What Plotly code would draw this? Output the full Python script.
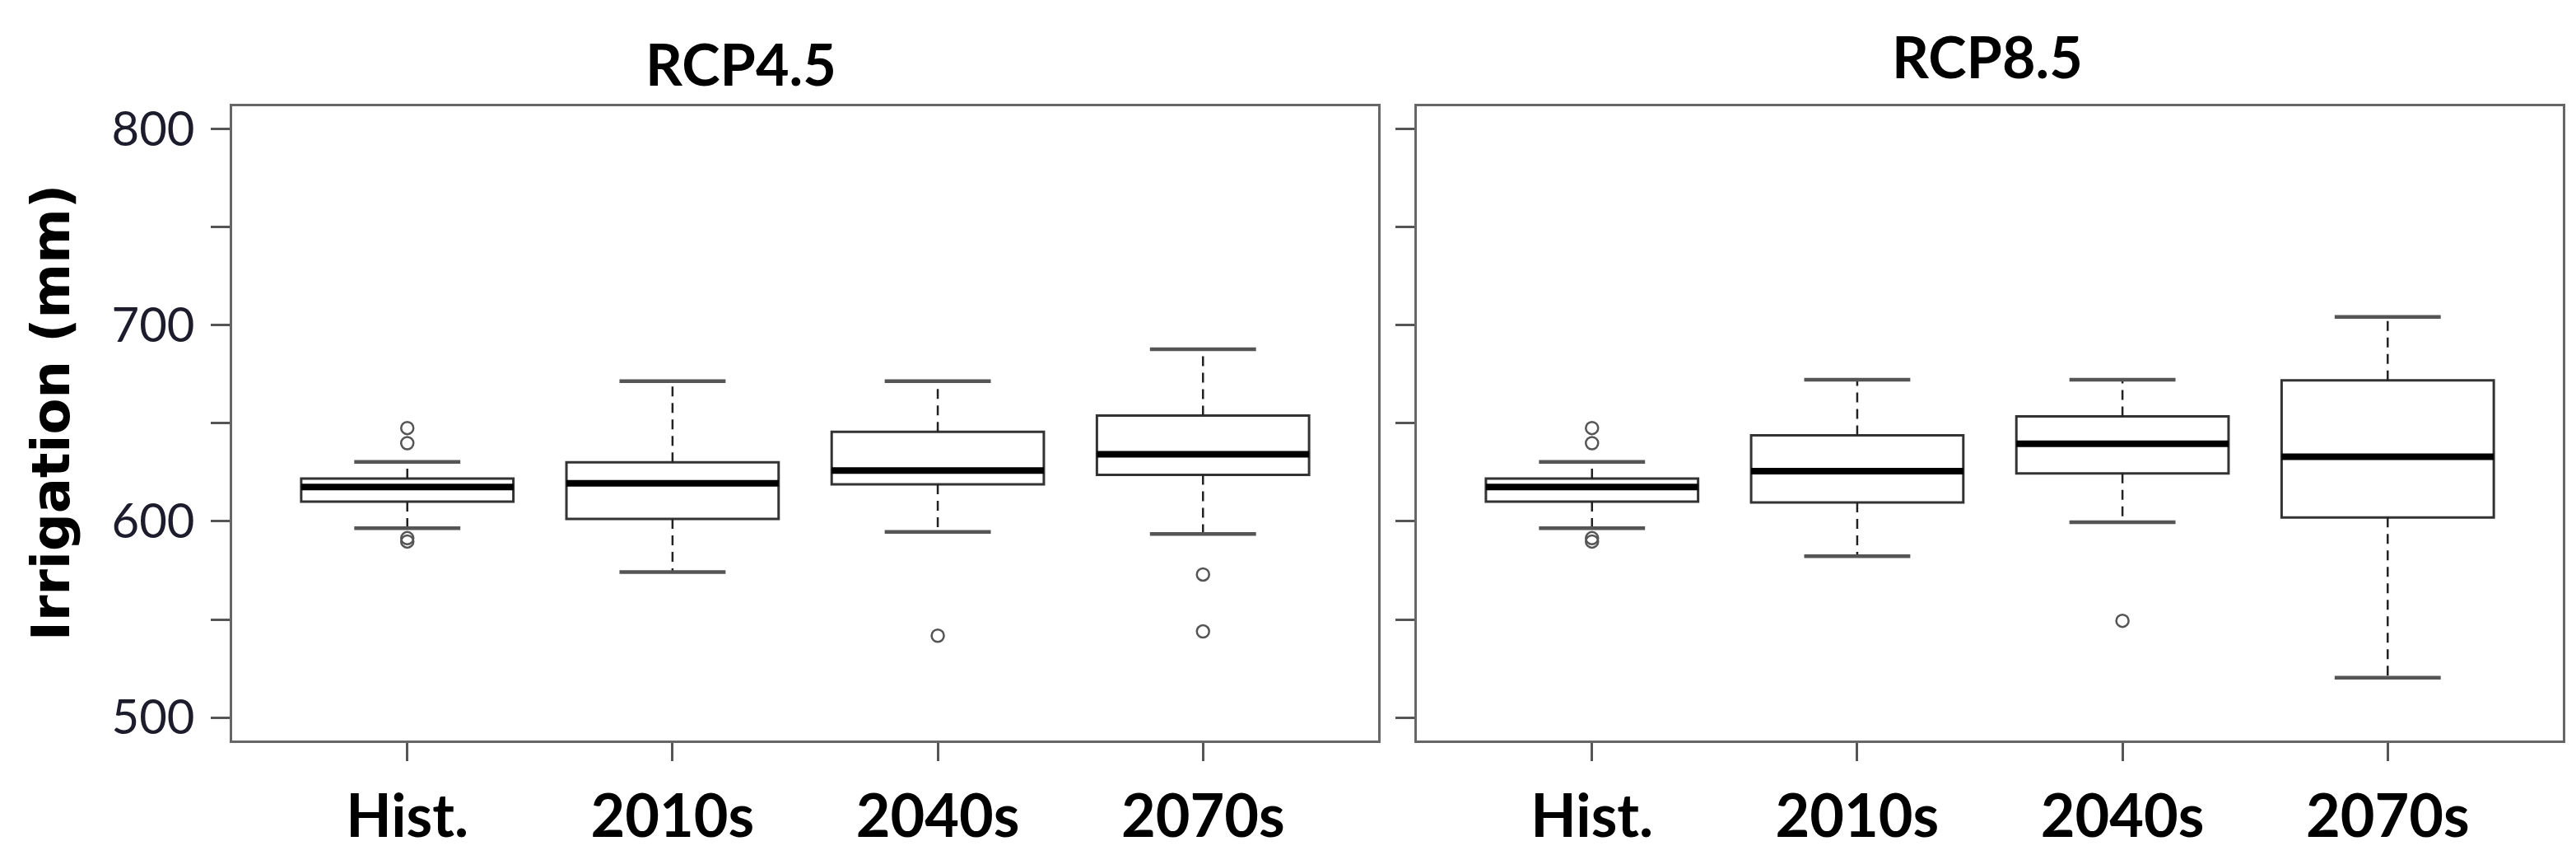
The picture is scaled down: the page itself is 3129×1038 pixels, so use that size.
"""Irrigation boxplots, RCP4.5 vs RCP8.5."""
import plotly.graph_objects as go

categories = ["Hist.", "2010s", "2040s", "2070s"]
positions = [1, 2, 3, 4]

# RCP4.5 box statistics (mm)
rcp45_low = [596.5, 574.1, 594.6, 593.5]
rcp45_q1 = [610.0, 601.2, 618.8, 623.7]
rcp45_med = [617.5, 619.3, 625.9, 634.1]
rcp45_q3 = [621.8, 630.0, 645.6, 653.9]
rcp45_high = [630.3, 671.4, 671.4, 687.6]
rcp45_out_x = [1, 1, 1, 1, 3, 4, 4]
rcp45_out_y = [647.5, 639.8, 591.4, 589.7, 541.7, 572.9, 543.9]

# RCP8.5 box statistics (mm)
rcp85_low = [596.5, 582.2, 599.5, 520.3]
rcp85_q1 = [610.0, 609.6, 624.4, 601.9]
rcp85_med = [617.5, 625.5, 639.5, 632.9]
rcp85_q3 = [621.8, 643.8, 653.4, 671.8]
rcp85_high = [630.3, 672.1, 672.1, 704.1]
rcp85_out_x = [1, 1, 1, 1, 3]
rcp85_out_y = [647.5, 639.8, 591.4, 589.7, 549.3]

y_ticks = [500, 550, 600, 650, 700, 750, 800]
y_ticklabels = ["500", "", "600", "", "700", "", "800"]

BOX_W = 0.8
CAP_HALF = 0.2


def add_panel(fig, xa, ya, low, q1, med, q3, high, out_x, out_y):
    fig.add_trace(go.Box(
        x=positions, q1=q1, median=med, q3=q3,
        lowerfence=q1, upperfence=q3,
        width=BOX_W, fillcolor="white",
        line=dict(color="#333333", width=3),
        boxpoints=False, hoverinfo="skip",
        xaxis=xa, yaxis=ya, showlegend=False,
    ))

    wx, wy, cx, cy, mx, my = [], [], [], [], [], []
    for p, lo, a, m, b, hi in zip(positions, low, q1, med, q3, high):
        wx += [p, p, None, p, p, None]
        wy += [b, hi, None, a, lo, None]
        cx += [p - CAP_HALF, p + CAP_HALF, None, p - CAP_HALF, p + CAP_HALF, None]
        cy += [hi, hi, None, lo, lo, None]
        mx += [p - BOX_W / 2, p + BOX_W / 2, None]
        my += [m, m, None]

    fig.add_trace(go.Scatter(
        x=wx, y=wy, mode="lines",
        line=dict(color="#222222", width=2.5, dash="12px,8px"),
        xaxis=xa, yaxis=ya, showlegend=False, hoverinfo="skip",
    ))
    fig.add_trace(go.Scatter(
        x=cx, y=cy, mode="lines",
        line=dict(color="#555555", width=4.5),
        xaxis=xa, yaxis=ya, showlegend=False, hoverinfo="skip",
    ))
    fig.add_trace(go.Scatter(
        x=mx, y=my, mode="lines",
        line=dict(color="#000000", width=8),
        xaxis=xa, yaxis=ya, showlegend=False, hoverinfo="skip",
    ))
    fig.add_trace(go.Scatter(
        x=out_x, y=out_y, mode="markers",
        marker=dict(symbol="circle-open", size=15, color="#555555",
                    line=dict(width=2.5)),
        xaxis=xa, yaxis=ya, showlegend=False, hoverinfo="skip",
    ))


fig = go.Figure()
add_panel(fig, "x", "y", rcp45_low, rcp45_q1, rcp45_med, rcp45_q3,
          rcp45_high, rcp45_out_x, rcp45_out_y)
add_panel(fig, "x2", "y2", rcp85_low, rcp85_q1, rcp85_med, rcp85_q3,
          rcp85_high, rcp85_out_x, rcp85_out_y)

frame = dict(showline=True, mirror=True, linecolor="#666666", linewidth=3,
             showgrid=False, zeroline=False, ticks="outside",
             tickcolor="#555555", tickwidth=3)

xaxis_common = dict(
    frame, range=[0.34, 4.66], tickvals=positions, ticktext=categories,
    ticklen=22, ticklabelstandoff=6,
    tickfont=dict(family="Lato", size=72, color="#000000", weight="bold"),
)
yaxis_common = dict(
    frame, range=[488.4, 811.6], tickvals=y_ticks, ticktext=y_ticklabels,
    ticklen=23, domain=[0.1397, 0.8911],
    tickfont=dict(family="Lato", size=58, color="#1c1c2c"),
)

fig.update_layout(
    width=3129, height=1038,
    paper_bgcolor="white", plot_bgcolor="white",
    margin=dict(l=0, r=0, t=0, b=0),
    xaxis=dict(xaxis_common, domain=[0.0876, 0.5324], anchor="y"),
    xaxis2=dict(xaxis_common, domain=[0.5475, 0.9923], anchor="y2"),
    yaxis=dict(yaxis_common, anchor="x", ticklabelstandoff=8),
    yaxis2=dict(yaxis_common, anchor="x2", showticklabels=False),
    annotations=[
        dict(text="RCP4.5", x=0.285, y=0.941, xref="paper", yref="paper",
             showarrow=False, xanchor="center", yanchor="middle",
             font=dict(family="Lato", size=70, color="#000000", weight="bold")),
        dict(text="RCP8.5", x=0.769, y=0.95, xref="paper", yref="paper",
             showarrow=False, xanchor="center", yanchor="middle",
             font=dict(family="Lato", size=70, color="#000000", weight="bold")),
        dict(text="Irrigation (mm)", x=0.0173, y=0.528, xref="paper",
             yref="paper", showarrow=False, textangle=-90,
             xanchor="center", yanchor="middle",
             font=dict(family="DejaVu Sans", size=64, color="#000000",
                       weight="bold")),
    ],
)

fig.write_html("out.html")
